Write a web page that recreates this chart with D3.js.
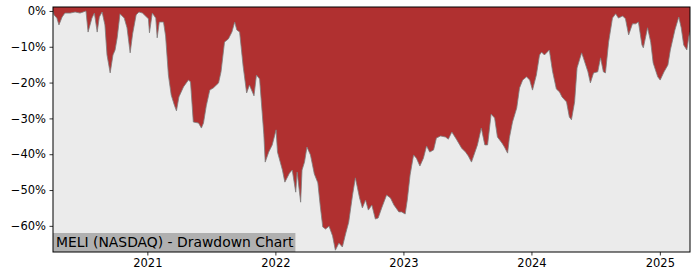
<!DOCTYPE html>
<html>
<head>
<meta charset="utf-8">
<script src="https://cdn.jsdelivr.net/npm/d3@7"></script>
<style>
  body { margin: 0; background: #fff; }
  svg { display: block; font-family: "DejaVu Sans", sans-serif; }
</style>
</head>
<body>
<svg id="chart"></svg>
<script>
// drawdown of MELI
const dates = [
  "2020-04-07","2020-04-10","2020-04-18","2020-04-24","2020-05-03","2020-05-11","2020-05-26","2020-06-09",
  "2020-06-23","2020-07-02","2020-07-10","2020-07-16","2020-07-27","2020-08-03","2020-08-11","2020-08-17",
  "2020-08-25","2020-09-02","2020-09-08","2020-09-17","2020-09-25","2020-10-01","2020-10-07","2020-10-15",
  "2020-10-27","2020-11-04","2020-11-13","2020-11-20","2020-11-30","2020-12-08","2020-12-18","2021-01-04",
  "2021-01-07","2021-01-15","2021-01-25","2021-01-29","2021-02-04","2021-02-16","2021-02-22","2021-03-02",
  "2021-03-10","2021-03-19","2021-03-25","2021-04-01","2021-04-14","2021-04-28","2021-05-04","2021-05-12",
  "2021-05-27","2021-06-04","2021-06-10","2021-06-18","2021-06-28","2021-07-08","2021-07-23","2021-07-30",
  "2021-08-09","2021-08-20","2021-08-30","2021-09-07","2021-09-13","2021-09-21","2021-10-01","2021-10-11",
  "2021-10-19","2021-11-01","2021-11-08","2021-11-17","2021-11-29","2021-12-03","2021-12-13","2021-12-23",
  "2022-01-03","2022-01-07","2022-01-21","2022-01-28","2022-02-10","2022-02-18","2022-02-28","2022-03-04",
  "2022-03-14","2022-03-18","2022-03-25","2022-04-01","2022-04-11","2022-04-22","2022-05-02","2022-05-09",
  "2022-05-16","2022-05-24","2022-06-03","2022-06-13","2022-06-21","2022-07-01","2022-07-11","2022-07-20",
  "2022-07-29","2022-08-09","2022-08-17","2022-08-29","2022-09-06","2022-09-15","2022-09-23","2022-10-03",
  "2022-10-13","2022-10-21","2022-10-31","2022-11-14","2022-11-25","2022-12-05","2022-12-19","2022-12-27",
  "2023-01-06","2023-01-12","2023-01-20","2023-01-30","2023-02-07","2023-02-17","2023-02-27","2023-03-08",
  "2023-03-17","2023-03-28","2023-04-05","2023-04-17","2023-05-01","2023-05-09","2023-05-19","2023-06-01",
  "2023-06-16","2023-06-27","2023-07-05","2023-07-14","2023-07-24","2023-07-31","2023-08-11","2023-08-21",
  "2023-08-29","2023-09-08","2023-09-18","2023-09-26","2023-10-09","2023-10-16","2023-10-25","2023-10-30",
  "2023-11-08","2023-11-20","2023-11-28","2023-12-07","2023-12-18","2023-12-27","2024-01-04","2024-01-15",
  "2024-01-24","2024-01-30","2024-02-07","2024-02-21","2024-03-01","2024-03-12","2024-03-21","2024-03-28",
  "2024-04-10","2024-04-18","2024-04-24","2024-05-03","2024-05-10","2024-05-23","2024-05-28","2024-06-10",
  "2024-06-17","2024-06-26","2024-07-08","2024-07-16","2024-07-24","2024-07-30","2024-08-08","2024-08-19",
  "2024-08-28","2024-09-05","2024-09-17","2024-09-25","2024-10-04","2024-10-15","2024-10-24","2024-11-01",
  "2024-11-11","2024-11-15","2024-11-27","2024-12-06","2024-12-13","2024-12-26","2025-01-02","2025-01-13",
  "2025-01-24","2025-01-31","2025-02-13","2025-02-24","2025-03-03","2025-03-10","2025-03-19","2025-03-25",
  "2025-03-28"
];

const drawdown = [
  0, -1.1, -2.0, -3.9, -1.7, -0.6, -0.6, -0.3,
  -0.6, -0.3, 0, -5.9, -2.0, -0.6, -5.9, -1.7,
  -0.3, -3.9, -12.3, -17.3, -12.3, -10.9, -7.5, -0.8,
  -2.0, -4.7, -11.7, -6.4, -1.1, -0.3, -0.6, -2.2,
  -6.1, -0.6, -2.0, -7.5, -3.1, -3.1, -7.0, -17.9,
  -23.5, -26.3, -27.9, -24.0, -21.2, -19.3, -19.8, -31.0,
  -31.3, -32.7, -31.3, -26.5, -22.1, -21.5, -20.1, -17.0,
  -8.7, -7.8, -5.9, -3.1, -5.3, -5.9, -15.4, -22.9,
  -20.7, -23.7, -17.9, -19.0, -34.4, -42.2, -39.4, -37.4,
  -33.2, -39.4, -44.4, -47.8, -45.3, -44.4, -50.6, -45.0,
  -53.4, -44.4, -42.2, -38.0, -40.2, -45.5, -48.0, -54.5,
  -60.3, -60.9, -60.1, -62.8, -66.8, -64.8, -65.9, -62.3,
  -59.0, -51.4, -46.6, -52.2, -55.0, -52.8, -55.6, -54.2,
  -58.1, -57.8, -55.0, -51.4, -52.2, -54.2, -56.1, -56.1,
  -56.7, -52.8, -45.8, -40.2, -41.1, -43.3, -41.1, -37.7,
  -39.4, -38.8, -35.5, -34.9, -35.2, -35.8, -33.8, -35.8,
  -38.3, -39.4, -40.5, -42.2, -39.4, -37.4, -32.7, -37.4,
  -37.4, -28.8, -29.9, -35.2, -36.9, -38.0, -39.7, -35.5,
  -31.0, -27.1, -21.5, -19.3, -18.4, -19.3, -22.1, -17.9,
  -12.3, -11.5, -12.3, -10.9, -16.8, -21.8, -22.6, -24.0,
  -25.4, -29.6, -30.4, -25.4, -15.9, -11.7, -13.1, -17.0,
  -20.1, -17.3, -17.0, -13.1, -17.0, -17.3, -8.7, -2.0,
  -0.8, -2.0, -1.4, -2.2, -6.7, -3.6, -3.6, -3.1,
  -9.5, -10.3, -4.7, -8.7, -14.5, -18.4, -19.3, -17.0,
  -15.1, -10.9, -5.3, -1.7, -4.7, -9.5, -10.9, -7.0,
  -5.9
];

const yTicks = [0, -10, -20, -30, -40, -50, -60];
const xTicks = ["2021-01-01", "2022-01-01", "2023-01-01", "2024-01-01", "2025-01-01"];
const title = "MELI (NASDAQ) - Drawdown Chart";

const W = 700, H = 280;
const m = {top: 7, right: 10, bottom: 28, left: 53};

const parse = d3.timeParse("%Y-%m-%d");
const data = dates.map((d, i) => ({date: parse(d), v: drawdown[i]}));

const svg = d3.select("#chart").attr("width", W).attr("height", H);

const x = d3.scaleTime()
  .domain(d3.extent(data, d => d.date))
  .range([m.left, W - m.right]);

const y = d3.scaleLinear()
  .domain([-67.3, 1.1])
  .range([H - m.bottom, m.top]);

// plot background
svg.append("rect")
  .attr("x", m.left).attr("y", m.top)
  .attr("width", W - m.left - m.right)
  .attr("height", H - m.top - m.bottom)
  .attr("fill", "#ebebeb");

svg.append("clipPath").attr("id", "plot")
  .append("rect")
  .attr("x", m.left).attr("y", m.top)
  .attr("width", W - m.left - m.right)
  .attr("height", H - m.top - m.bottom);

const area = d3.area()
  .x(d => x(d.date))
  .y0(m.top)
  .y1(d => y(d.v));

const line = d3.line()
  .x(d => x(d.date))
  .y(d => y(d.v));

svg.append("path")
  .datum(data)
  .attr("clip-path", "url(#plot)")
  .attr("fill", "#b03030")
  .attr("d", area);

svg.append("path")
  .datum(data)
  .attr("clip-path", "url(#plot)")
  .attr("fill", "none")
  .attr("stroke", "#7d7d7d")
  .attr("stroke-width", 0.8)
  .attr("d", line);

// title box in the bottom left corner
const label = svg.append("g");
const labelText = label.append("text")
  .attr("x", m.left + 3)
  .attr("y", H - m.bottom - 5)
  .attr("font-size", 13.9)
  .attr("fill", "#000")
  .text(title);
const tw = labelText.node().getComputedTextLength();
label.insert("rect", "text")
  .attr("x", m.left)
  .attr("y", H - m.bottom - 19)
  .attr("width", tw + 5)
  .attr("height", 19)
  .attr("fill", "#b0b0b0");

// axes
const yAxis = d3.axisLeft(y)
  .tickValues(yTicks)
  .tickSize(3.5)
  .tickPadding(3.5)
  .tickFormat(d => (d < 0 ? "\u2212" + Math.abs(d) : d) + "%");

const xAxis = d3.axisBottom(x)
  .tickValues(xTicks.map(parse))
  .tickSize(3.5)
  .tickPadding(3.5)
  .tickFormat(d3.timeFormat("%Y"));

const gy = svg.append("g")
  .attr("transform", `translate(${m.left},0)`)
  .call(yAxis);

const gx = svg.append("g")
  .attr("transform", `translate(0,${H - m.bottom})`)
  .call(xAxis);

[gx, gy].forEach(g => {
  g.select(".domain").remove();
  g.selectAll("text").attr("font-size", 11.5).attr("fill", "#000").attr("font-family", "DejaVu Sans");
  g.selectAll("line").attr("stroke", "#000").attr("stroke-width", 0.8);
});

// frame
svg.append("rect")
  .attr("x", m.left).attr("y", m.top)
  .attr("width", W - m.left - m.right)
  .attr("height", H - m.top - m.bottom)
  .attr("fill", "none")
  .attr("stroke", "#000")
  .attr("stroke-width", 1);
</script>
</body>
</html>
